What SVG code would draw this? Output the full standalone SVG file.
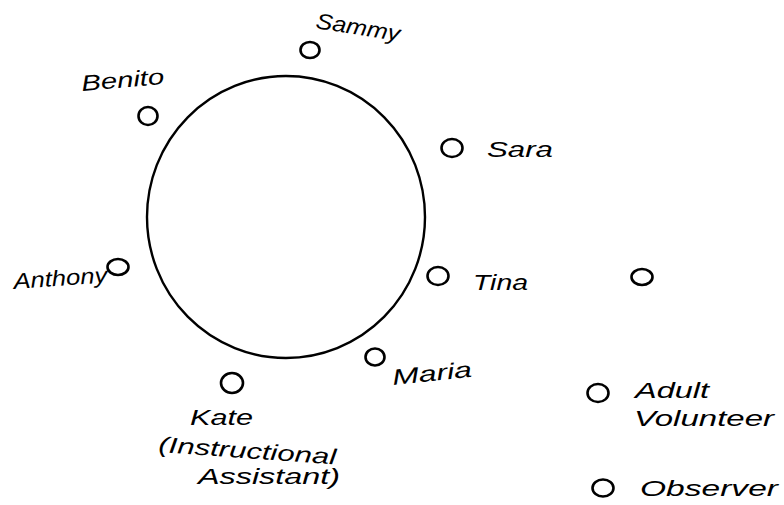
<svg xmlns="http://www.w3.org/2000/svg" width="784" height="505" viewBox="0 0 784 505">
<style>
.seat{fill:none;stroke:#000;stroke-width:2.6}
.ring{fill:none;stroke:#000;stroke-width:2.4}
text{font-family:"Liberation Sans",Arial,sans-serif;font-style:italic;font-size:22px;fill:#000}
</style>
<rect width="784" height="505" fill="#fff"/>
<g id="rug"><ellipse class="ring" cx="286" cy="217" rx="139" ry="141"/></g>
<g id="connectors"></g>
<g id="sammy"><ellipse class="seat" cx="310" cy="50" rx="9.5" ry="8"/><text x="315" y="28" transform="rotate(9 315 28)" textLength="85" lengthAdjust="spacingAndGlyphs">Sammy</text></g>
<g id="benito"><ellipse class="seat" cx="148" cy="116" rx="9.5" ry="9"/><text x="82" y="91" transform="rotate(-5 82 91)" textLength="83" lengthAdjust="spacingAndGlyphs">Benito</text></g>
<g id="sara"><ellipse class="seat" cx="452" cy="148" rx="10.5" ry="9"/><text x="487" y="157" textLength="66" lengthAdjust="spacingAndGlyphs">Sara</text></g>
<g id="anthony"><ellipse class="seat" cx="118" cy="267" rx="10.5" ry="8"/><text x="14" y="289" transform="rotate(-4 14 289)" textLength="94" lengthAdjust="spacingAndGlyphs">Anthony</text></g>
<g id="tina"><ellipse class="seat" cx="438" cy="276" rx="10.5" ry="9"/><text x="473" y="290" textLength="55" lengthAdjust="spacingAndGlyphs">Tina</text></g>
<g id="empty"><ellipse class="seat" cx="642" cy="277" rx="10.5" ry="8"/></g>
<g id="maria"><ellipse class="seat" cx="375" cy="357" rx="9.5" ry="8.5"/><text x="393" y="385" transform="rotate(-6 393 385)" textLength="80" lengthAdjust="spacingAndGlyphs">Maria</text></g>
<g id="kate"><ellipse class="seat" cx="232" cy="383" rx="11" ry="10"/><text x="190" y="425" textLength="63" lengthAdjust="spacingAndGlyphs">Kate</text><text x="158" y="452" transform="rotate(4 158 452)" textLength="178" lengthAdjust="spacingAndGlyphs">(Instructional</text><text x="198" y="484" textLength="142" lengthAdjust="spacingAndGlyphs">Assistant)</text></g>
<g id="volunteer"><ellipse class="seat" cx="598" cy="393" rx="10.5" ry="9"/><text x="635" y="398" textLength="74" lengthAdjust="spacingAndGlyphs">Adult</text><text x="634" y="426" textLength="140" lengthAdjust="spacingAndGlyphs">Volunteer</text></g>
<g id="observer"><ellipse class="seat" cx="603" cy="488" rx="10.5" ry="8.5"/><text x="640" y="496" textLength="138" lengthAdjust="spacingAndGlyphs">Observer</text></g>
</svg>
